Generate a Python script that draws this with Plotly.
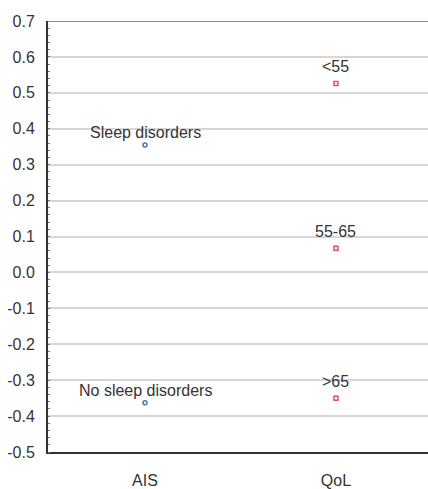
import plotly.graph_objects as go

# Factor levels and their mean scores
ais_levels = ["Sleep disorders", "No sleep disorders"]
ais_values = [0.355, -0.363]

qol_levels = ["<55", "55-65", ">65"]
qol_values = [0.526, 0.067, -0.350]

categories = ["AIS", "QoL"]
y_ticks = [-0.5, -0.4, -0.3, -0.2, -0.1, 0.0, 0.1, 0.2, 0.3, 0.4, 0.5, 0.6, 0.7]
y_tick_labels = ["-0.5", "-0.4", "-0.3", "-0.2", "-0.1", "0.0", "0.1",
                 "0.2", "0.3", "0.4", "0.5", "0.6", "0.7"]

font_family = "Liberation Sans, Arial, sans-serif"
text_color = "#333333"
font_size = 16

fig = go.Figure()

fig.add_trace(go.Scatter(
    x=[0] * len(ais_values),
    y=ais_values,
    mode="markers",
    marker=dict(symbol="circle-open", size=4, color="#4a78b0", line=dict(width=1.5)),
    showlegend=False,
    hoverinfo="skip",
))

fig.add_trace(go.Scatter(
    x=[1] * len(qol_values),
    y=qol_values,
    mode="markers",
    marker=dict(symbol="square-open", size=4, color="#e0506a", line=dict(width=1.5)),
    showlegend=False,
    hoverinfo="skip",
))

# Level names sit just above each point
for name, val in zip(ais_levels, ais_values):
    fig.add_annotation(x=0, y=val, text=name, showarrow=False,
                       yanchor="middle", yshift=12,
                       font=dict(family=font_family, size=font_size, color=text_color))
for name, val in zip(qol_levels, qol_values):
    fig.add_annotation(x=1, y=val, text=name, showarrow=False,
                       yanchor="middle", yshift=17,
                       font=dict(family=font_family, size=font_size, color=text_color))

# Upper frame line
fig.add_shape(type="line", xref="paper", yref="y", x0=0, x1=1, y0=0.7, y1=0.7,
              line=dict(color="#8a8a8a", width=2))

fig.update_xaxes(
    range=[-0.508, 1.482],
    tickmode="array",
    tickvals=[0, 1],
    ticktext=categories,
    showgrid=False,
    zeroline=False,
    showline=True,
    linecolor="#333333",
    linewidth=2,
    ticks="",
    ticklabelstandoff=13,
    tickfont=dict(family=font_family, size=font_size, color=text_color),
)

fig.update_yaxes(
    range=[-0.5, 0.7],
    tickmode="array",
    tickvals=y_ticks,
    ticktext=y_tick_labels,
    showgrid=True,
    gridcolor="#d6d6d6",
    gridwidth=2,
    zeroline=False,
    showline=True,
    linecolor="#333333",
    linewidth=2,
    ticks="",
    ticklabelstandoff=8,
    tickfont=dict(family=font_family, size=font_size, color=text_color),
    minor=dict(ticks="inside", ticklen=2, tickcolor="#777777", dtick=0.02, showgrid=False),
)

fig.update_layout(
    width=428,
    height=489,
    margin=dict(l=48, r=0, t=21, b=37),
    plot_bgcolor="white",
    paper_bgcolor="white",
)

fig.write_html("out.html")
